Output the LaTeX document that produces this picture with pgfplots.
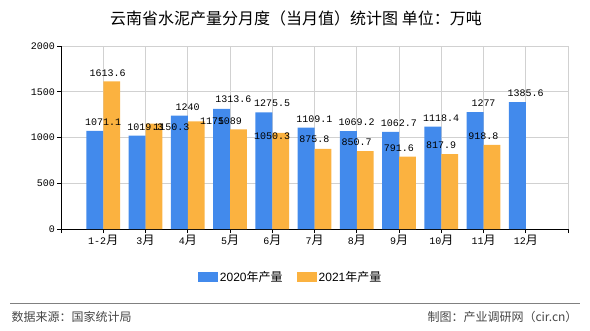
\documentclass[border=0pt]{standalone}
\usepackage{pgfplots}
\pgfplotsset{compat=1.18}
\usepackage{pgfplotstable}
\usepackage{fontspec}
\setmainfont{Liberation Sans}
\newfontfamily\cjk{Noto Sans CJK SC}
\newfontfamily\mono{Liberation Mono}
\definecolor{cblue}{RGB}{66,138,236}
\definecolor{corange}{RGB}{251,178,64}
\definecolor{footgray}{RGB}{70,70,70}
\newcommand\yue{{\fontsize{12}{12}\cjk 月}}
\pgfplotsset{mylegend/.style={legend image code/.code={\fill[##1] (0pt,-5pt) rectangle (20pt,5pt);}}}

\pgfplotstableread{
x y lab dx dy
0 1071.1 1071.1 0 0
1 1019.3 1019.3 0 0
2 1240 1240 0 0
3 1313.6 1313.6 3.5 1
4 1275.5 1275.5 0 0
5 1109.1 1109.1 0 0
6 1069.2 1069.2 0 0
7 1062.7 1062.7 0 0
8 1118.4 1118.4 0 0
9 1277 1277 0 0
10 1385.6 1385.6 0 0
}\tA
\pgfplotstableread{
x y lab dx dy
0 1613.6 1613.6 4.5 0
1 1150.3 1150.3 26 -12
2 1175 1175 24.5 -8.5
3 1089 1089 0 0
4 1050.3 1050.3 0 -11.5
5 875.8 875.8 0 1.5
6 850.7 850.7 0 0
7 791.6 791.6 0 0
8 817.9 817.9 0 0
9 918.8 918.8 0 0
}\tB

\begin{document}
\begin{tikzpicture}
\useasboundingbox (0,0) rectangle (590pt,330pt);
\node at (296pt,312pt) {\fontsize{16}{18}\cjk 云南省水泥产量分月度（当月值）统计图 单位：万吨};
\begin{axis}[
  at={(61pt,101pt)}, anchor=south west,
  width=507pt, height=183pt, scale only axis,
  xmin=-1, xmax=11, ymin=0, ymax=2000,
  xtick={-1,0,1,2,3,4,5,6,7,8,9,10,11},
  xticklabels={,{1-2\yue},{3\yue},{4\yue},{5\yue},{6\yue},{7\yue},{8\yue},{9\yue},{10\yue},{11\yue},{12\yue},},
  ytick={0,500,1000,1500,2000},
  yticklabels={0,500,1000,1500,2000},
  axis x line*=bottom, axis y line*=left,
  xmajorgrids, ymajorgrids,
  grid style={draw=black!18, line width=0.8pt},
  tick align=outside, major tick length=4pt,
  tick style={black, line width=0.8pt},
  axis line style={black, line width=0.8pt},
  xticklabel style={font=\fontsize{10}{12}\mono, inner sep=2pt},
  yticklabel style={font=\fontsize{10}{12}\mono, inner sep=2pt},
  legend style={draw=none, fill=none, at={(axis description cs:0.453,-0.262)}, anchor=center,
    legend columns=2, font=\fontsize{12}{14}\selectfont,
    /tikz/every even column/.append style={column sep=12pt},
    nodes={inner sep=2pt}},
  point meta=explicit symbolic,
  nodes near coords,
  visualization depends on={\thisrow{dx} \as \myDx},
  visualization depends on={\thisrow{dy} \as \myDy},
  every node near coord/.append style={font=\fontsize{10}{12}\mono, anchor=south, inner sep=2pt, xshift=\myDx pt, yshift=\myDy pt + 3pt, text=black},
]
\addplot[ybar, bar width=0.4, bar shift=-0.2, fill=cblue, draw=none, mylegend] table[x=x, y=y, meta=lab] {\tA};
\addlegendentry{2020{\cjk 年产量}}
\addplot[ybar, bar width=0.4, bar shift=0.2, fill=corange, draw=none, mylegend] table[x=x, y=y, meta=lab] {\tB};
\addlegendentry{2021{\cjk 年产量}}
\end{axis}
\draw[black!50, line width=0.8pt] (10pt,27pt) -- (580pt,27pt);
\node[anchor=west, text=footgray] at (8pt,13pt) {\fontsize{12}{14}\cjk 数据来源：国家统计局};
\node[anchor=east, text=footgray] at (581pt,13pt) {\fontsize{12}{14}\cjk 制图：产业调研网（cir.cn）};
\end{tikzpicture}
\end{document}
